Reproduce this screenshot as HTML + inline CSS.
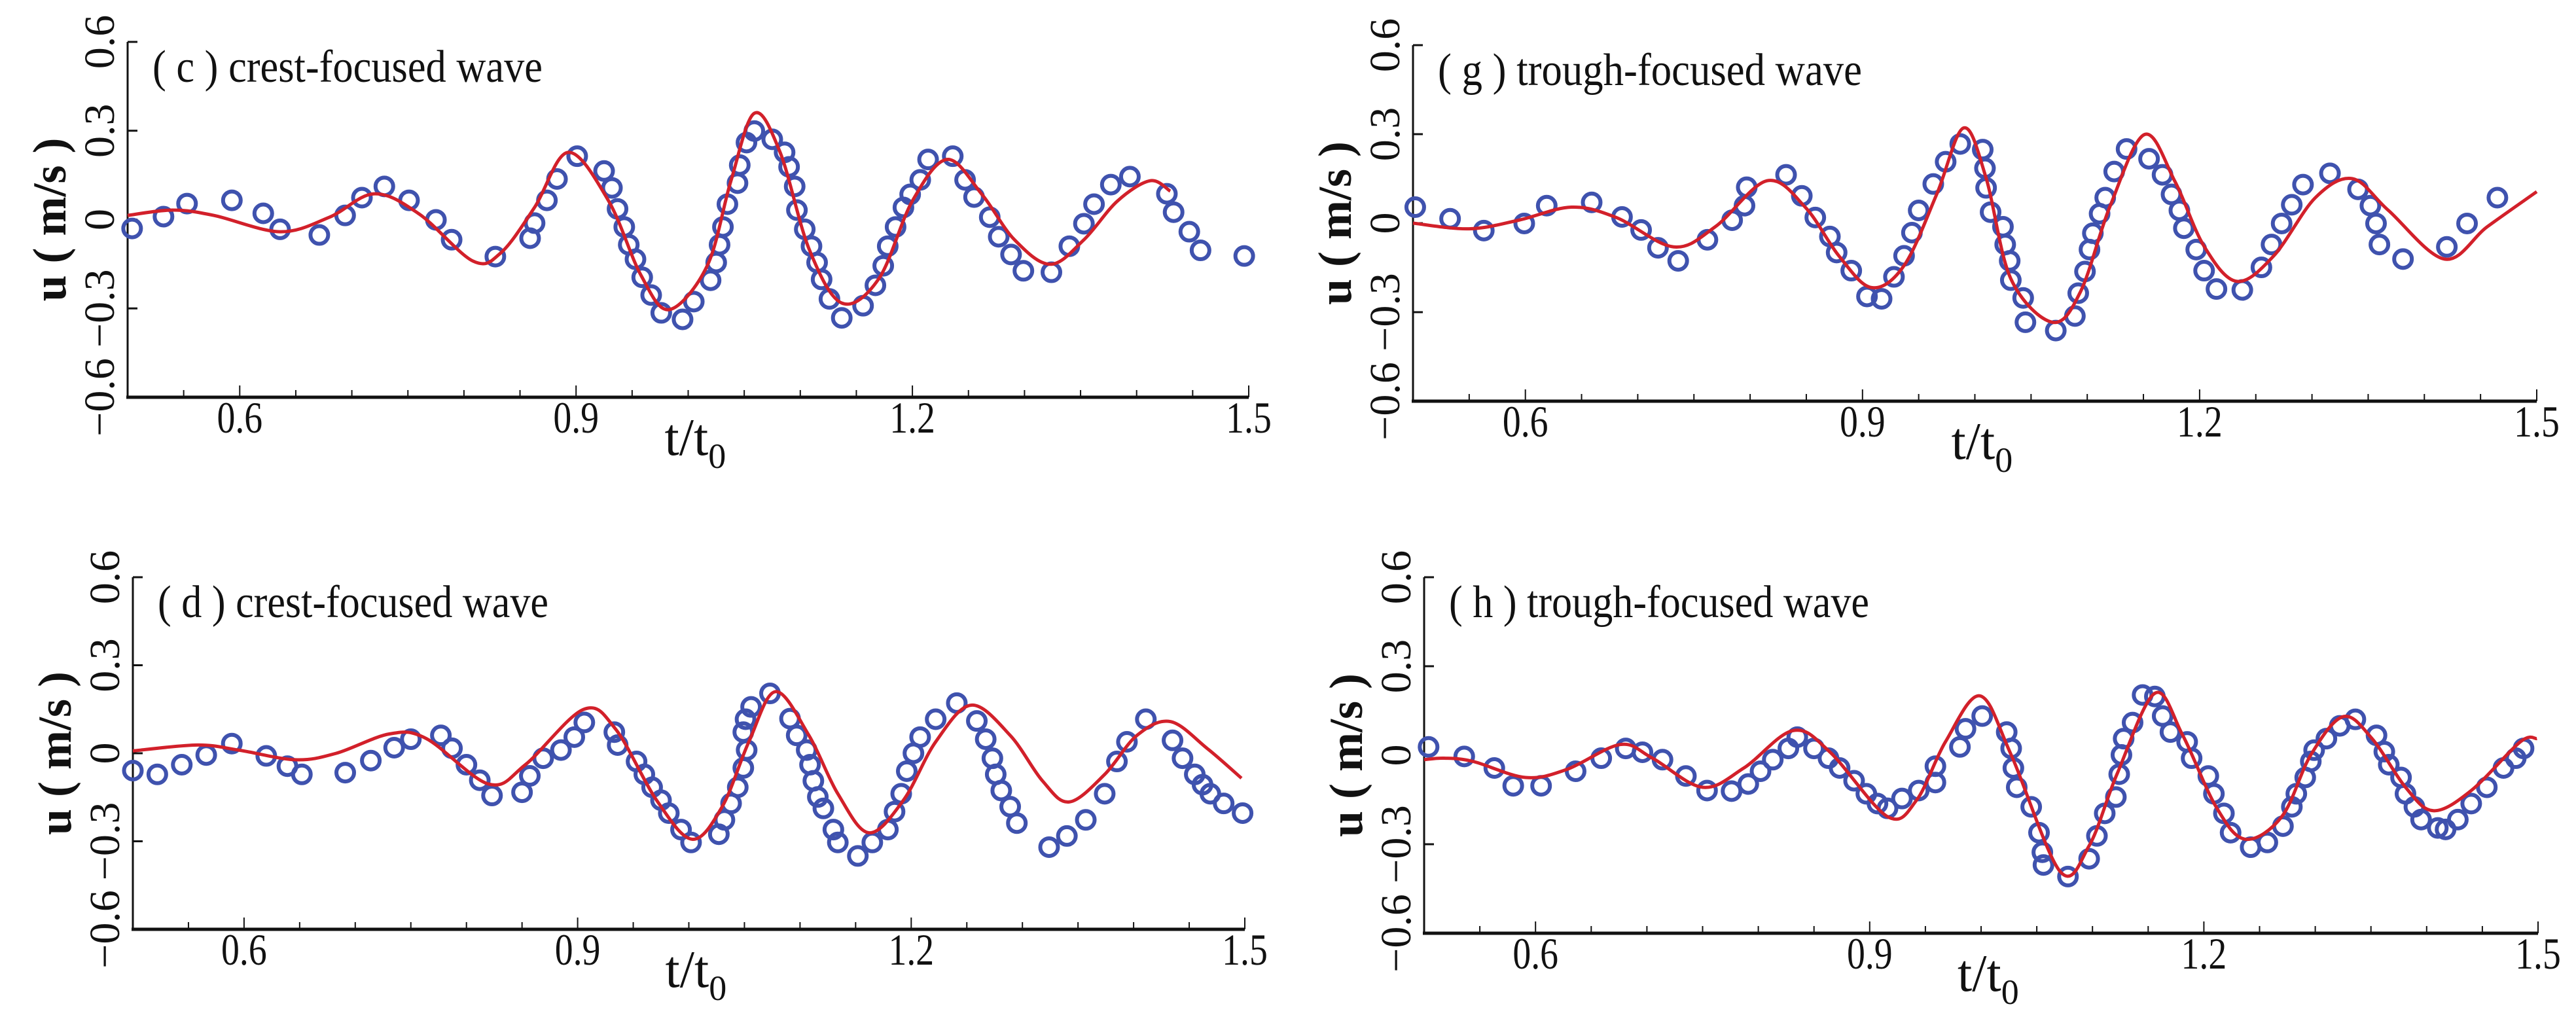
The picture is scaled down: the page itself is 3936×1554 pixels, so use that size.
<!DOCTYPE html>
<html><head><meta charset="utf-8"><style>
html,body{margin:0;padding:0;background:#fff}
svg{display:block}
text{font-family:"Liberation Serif",serif;fill:#111}
</style></head><body>
<svg id="fig" width="3936" height="1554" viewBox="0 0 3936 1554" xmlns="http://www.w3.org/2000/svg">
<rect width="3936" height="1554" fill="#fff"/>
</svg>
<script>
const xTicks=[0.6,0.9,1.2,1.5];
const xTickLabels=["0.6","0.9","1.2","1.5"];
const yTicks=[-0.6,-0.3,0,0.3,0.6];
const yTickLabels=["\u22120.6","\u22120.3","0","0.3","0.6"];

// panel c
const cLineT=[0.5,0.54,0.577,0.636,0.68,0.72,0.76,0.808,0.833,0.863,0.893,0.929,0.958,0.983,1.017,1.038,1.059,1.082,1.108,1.137,1.17,1.2,1.231,1.262,1.291,1.323,1.353,1.383,1.412,1.43];
const cLineU=[0.014,0.032,0.014,-0.041,0.008,0.087,0.019,-0.14,-0.112,0.041,0.227,0.063,-0.189,-0.304,-0.156,0.129,0.359,0.227,-0.101,-0.282,-0.2,0.063,0.203,0.085,-0.068,-0.151,-0.068,0.063,0.131,0.096];
const cExpT=[0.504,0.532,0.553,0.593,0.621,0.636,0.671,0.694,0.709,0.729,0.751,0.775,0.789,0.828,0.859,0.863,0.874,0.883,0.901,0.925,0.932,0.937,0.943,0.947,0.953,0.959,0.967,0.976,0.995,1.005,1.02,1.025,1.028,1.031,1.035,1.044,1.046,1.052,1.059,1.075,1.086,1.09,1.095,1.097,1.104,1.11,1.115,1.119,1.126,1.137,1.156,1.167,1.174,1.178,1.185,1.192,1.198,1.207,1.214,1.236,1.247,1.255,1.269,1.277,1.288,1.299,1.324,1.34,1.353,1.362,1.377,1.394,1.427,1.433,1.447,1.457,1.496];
const cExpU=[-0.03,0.01,0.054,0.065,0.021,-0.033,-0.052,0.014,0.074,0.112,0.065,-0.001,-0.068,-0.125,-0.063,-0.012,0.065,0.137,0.214,0.164,0.107,0.036,-0.025,-0.085,-0.134,-0.195,-0.255,-0.315,-0.337,-0.277,-0.205,-0.145,-0.085,-0.025,0.052,0.123,0.184,0.26,0.299,0.271,0.227,0.178,0.112,0.032,-0.033,-0.09,-0.145,-0.202,-0.268,-0.332,-0.291,-0.222,-0.156,-0.09,-0.025,0.041,0.085,0.134,0.203,0.214,0.134,0.076,0.008,-0.058,-0.118,-0.173,-0.178,-0.09,-0.014,0.052,0.118,0.145,0.087,0.025,-0.041,-0.104,-0.123];

// panel g
const gLineT=[0.5,0.55,0.594,0.641,0.681,0.732,0.769,0.815,0.849,0.879,0.908,0.937,0.966,0.99,1.01,1.032,1.069,1.094,1.12,1.151,1.178,1.204,1.233,1.266,1.303,1.336,1.368,1.418,1.456,1.5];
const gLineU=[0.0,-0.019,0.01,0.054,0.019,-0.08,-0.012,0.143,0.054,-0.11,-0.217,-0.143,0.097,0.321,0.152,-0.187,-0.334,-0.231,0.054,0.299,0.141,-0.078,-0.196,-0.11,0.086,0.15,0.043,-0.121,-0.012,0.106];
const gExpT=[0.502,0.533,0.563,0.599,0.619,0.659,0.686,0.703,0.718,0.736,0.762,0.784,0.795,0.797,0.832,0.846,0.858,0.871,0.877,0.89,0.904,0.917,0.928,0.937,0.944,0.95,0.963,0.974,0.987,1.007,1.009,1.01,1.014,1.025,1.027,1.031,1.032,1.043,1.045,1.072,1.089,1.092,1.098,1.102,1.105,1.111,1.116,1.124,1.135,1.155,1.167,1.175,1.182,1.186,1.197,1.204,1.215,1.238,1.255,1.264,1.273,1.282,1.292,1.316,1.341,1.352,1.357,1.36,1.381,1.42,1.438,1.465];
const gExpU=[0.054,0.015,-0.025,-0.001,0.059,0.07,0.021,-0.023,-0.083,-0.127,-0.056,0.01,0.059,0.121,0.163,0.092,0.019,-0.045,-0.099,-0.16,-0.247,-0.255,-0.181,-0.11,-0.032,0.043,0.132,0.207,0.267,0.248,0.185,0.119,0.037,-0.012,-0.072,-0.127,-0.192,-0.252,-0.334,-0.362,-0.313,-0.236,-0.163,-0.089,-0.034,0.032,0.086,0.174,0.25,0.217,0.163,0.097,0.043,-0.017,-0.089,-0.16,-0.222,-0.225,-0.149,-0.072,-0.001,0.062,0.13,0.168,0.114,0.059,-0.001,-0.072,-0.121,-0.08,-0.001,0.086];

// panel d
const dLineT=[0.5,0.558,0.595,0.646,0.683,0.731,0.764,0.82,0.853,0.905,0.934,0.971,1.003,1.03,1.054,1.078,1.108,1.134,1.162,1.193,1.222,1.254,1.289,1.318,1.342,1.374,1.403,1.433,1.466,1.497];
const dLineU=[0.008,0.028,0.011,-0.022,0.0,0.066,0.05,-0.105,-0.039,0.149,0.083,-0.16,-0.293,-0.182,0.039,0.21,0.061,-0.138,-0.271,-0.16,0.039,0.164,0.061,-0.094,-0.166,-0.072,0.061,0.108,0.017,-0.085];
const dExpT=[0.5,0.522,0.544,0.566,0.589,0.62,0.639,0.652,0.691,0.714,0.735,0.75,0.777,0.787,0.8,0.812,0.823,0.85,0.857,0.869,0.885,0.897,0.906,0.933,0.936,0.953,0.96,0.967,0.975,0.982,0.993,1.002,1.027,1.032,1.038,1.044,1.049,1.052,1.049,1.051,1.056,1.073,1.091,1.097,1.106,1.109,1.112,1.116,1.121,1.13,1.134,1.152,1.165,1.179,1.185,1.191,1.196,1.202,1.208,1.222,1.241,1.259,1.267,1.273,1.276,1.281,1.289,1.295,1.324,1.34,1.357,1.374,1.385,1.394,1.411,1.435,1.444,1.455,1.462,1.469,1.481,1.498];
const dExpU=[-0.059,-0.072,-0.039,-0.006,0.033,-0.009,-0.044,-0.072,-0.066,-0.025,0.019,0.048,0.061,0.017,-0.039,-0.092,-0.144,-0.133,-0.077,-0.017,0.011,0.055,0.105,0.072,0.028,-0.028,-0.072,-0.116,-0.16,-0.204,-0.26,-0.304,-0.276,-0.227,-0.171,-0.116,-0.05,0.011,0.072,0.116,0.158,0.204,0.118,0.061,0.011,-0.039,-0.094,-0.149,-0.188,-0.26,-0.304,-0.35,-0.304,-0.26,-0.199,-0.138,-0.061,0.0,0.055,0.116,0.171,0.11,0.048,-0.017,-0.072,-0.127,-0.182,-0.238,-0.32,-0.282,-0.227,-0.138,-0.028,0.039,0.116,0.044,-0.017,-0.072,-0.107,-0.138,-0.171,-0.204];

// panel h
const hLineT=[0.5,0.518,0.544,0.591,0.628,0.676,0.705,0.75,0.787,0.831,0.864,0.916,0.942,0.968,0.999,1.027,1.071,1.097,1.122,1.156,1.181,1.211,1.237,1.27,1.296,1.325,1.351,1.381,1.406,1.44,1.484,1.499];
const hLineU=[-0.015,-0.01,-0.021,-0.075,-0.048,0.036,-0.01,-0.108,-0.043,0.083,0.012,-0.207,-0.152,0.045,0.2,0.001,-0.392,-0.305,-0.064,0.209,0.067,-0.174,-0.283,-0.207,0.001,0.13,0.056,-0.108,-0.187,-0.119,0.045,0.056];
const hExpT=[0.504,0.536,0.563,0.58,0.605,0.636,0.659,0.681,0.696,0.714,0.735,0.754,0.776,0.791,0.802,0.813,0.827,0.835,0.85,0.863,0.873,0.886,0.897,0.907,0.916,0.929,0.944,0.959,0.959,0.981,0.986,1.001,1.023,1.027,1.029,1.032,1.045,1.052,1.055,1.056,1.078,1.097,1.104,1.111,1.121,1.124,1.126,1.128,1.136,1.145,1.156,1.163,1.17,1.185,1.189,1.204,1.209,1.218,1.224,1.242,1.257,1.271,1.279,1.283,1.291,1.296,1.299,1.31,1.322,1.336,1.355,1.362,1.366,1.377,1.381,1.389,1.395,1.41,1.417,1.428,1.44,1.454,1.469,1.48,1.487];
const hExpU=[0.028,-0.004,-0.043,-0.103,-0.103,-0.054,-0.01,0.023,0.01,-0.015,-0.07,-0.119,-0.121,-0.097,-0.054,-0.015,0.023,0.061,0.023,-0.01,-0.043,-0.086,-0.13,-0.163,-0.179,-0.146,-0.119,-0.092,-0.037,0.028,0.089,0.132,0.078,0.023,-0.043,-0.108,-0.174,-0.261,-0.327,-0.37,-0.409,-0.349,-0.272,-0.196,-0.141,-0.064,0.001,0.056,0.11,0.203,0.198,0.132,0.078,0.045,-0.01,-0.07,-0.13,-0.196,-0.261,-0.31,-0.294,-0.239,-0.174,-0.13,-0.075,-0.021,0.017,0.056,0.099,0.121,0.067,0.012,-0.032,-0.075,-0.13,-0.174,-0.217,-0.245,-0.25,-0.217,-0.163,-0.108,-0.043,-0.01,0.023];

const svg=document.getElementById('fig');
const NS='http://www.w3.org/2000/svg';
function mk(tag,attrs,parent){const e=document.createElementNS(NS,tag);for(const k in attrs)e.setAttribute(k,attrs[k]);(parent||svg).appendChild(e);return e;}

const panels=[
 {id:'c',L:195,R:1908,T:64,B:607,title:'( c ) crest-focused wave',tw:596,lt:cLineT,lu:cLineU,et:cExpT,eu:cExpU},
 {id:'g',L:2159,R:3876,T:69,B:613,title:'( g ) trough-focused wave',tw:648,lt:gLineT,lu:gLineU,et:gExpT,eu:gExpU},
 {id:'d',L:203,R:1902,T:882,B:1420,title:'( d ) crest-focused wave',tw:597,lt:dLineT,lu:dLineU,et:dExpT,eu:dExpU},
 {id:'h',L:2176,R:3878,T:882,B:1426,title:'( h ) trough-focused wave',tw:642,lt:hLineT,lu:hLineU,et:hExpT,eu:hExpU}
];

function smoothPath(pts){
  let d='M'+pts[0][0].toFixed(1)+','+pts[0][1].toFixed(1);
  for(let i=0;i<pts.length-1;i++){
    const p0=pts[i-1]||pts[i],p1=pts[i],p2=pts[i+1],p3=pts[i+2]||p2;
    const c1=[p1[0]+(p2[0]-p0[0])/6,p1[1]+(p2[1]-p0[1])/6];
    const c2=[p2[0]-(p3[0]-p1[0])/6,p2[1]-(p3[1]-p1[1])/6];
    d+=' C'+c1[0].toFixed(1)+','+c1[1].toFixed(1)+' '+c2[0].toFixed(1)+','+c2[1].toFixed(1)+' '+p2[0].toFixed(1)+','+p2[1].toFixed(1);
  }
  return d;
}

panels.forEach(p=>{
  const xs=t=>p.L+(t-0.5)/(1.0)*(p.R-p.L);
  const ys=u=>p.B-(u+0.6)/1.2*(p.B-p.T);
  const g=mk('g',{});
  
  

  const ya=mk('line',{x1:p.L,y1:p.T,x2:p.L,y2:p.B,stroke:'#111','stroke-width':3},g);
  
  
  const xa=mk('line',{x1:p.L-2,y1:p.B,x2:p.R,y2:p.B,stroke:'#111','stroke-width':5},g);
  
  

  for(let k=0;k<=20;k++){
    const t=0.5+k*0.05;
    const major=(k%6===2);
    const tk=mk('line',{x1:xs(t),y1:p.B,x2:xs(t),y2:p.B-(major?18:11),stroke:'#111','stroke-width':2},g);
    
    
  }
  xTicks.forEach((t,i)=>{
    const tx=mk('text',{x:xs(t),y:p.B+54,'text-anchor':'middle','font-size':68,transform:'translate('+xs(t)+',0) scale(0.82,1) translate('+(-xs(t))+',0)'},g);
    tx.textContent=xTickLabels[i];
    
    
  });
  yTicks.forEach((u,i)=>{
    const tk=mk('line',{x1:p.L,y1:ys(u),x2:p.L+15,y2:ys(u),stroke:'#111','stroke-width':3},g);
    
    
    const x0=p.L-21,y0=ys(u);
    const tx=mk('text',{x:0,y:0,'text-anchor':'middle','font-size':66,transform:'translate('+x0+','+y0+') rotate(-90)'},g);
    tx.textContent=yTickLabels[i];
    
    
  });

  const cx=(p.L+p.R)/2;
  const xt=mk('text',{x:cx-36,y:p.B+88,'font-size':80},g);
  xt.innerHTML='t/t<tspan font-size="54" dy="20">0</tspan>';
  
  
  const yt=mk('text',{x:0,y:0,'text-anchor':'middle','font-size':72,'font-weight':'bold',textLength:250,lengthAdjust:'spacing',transform:'translate('+(p.L-95)+','+((p.T+p.B)/2)+') rotate(-90)'},g);
  yt.textContent='u ( m/s )';
  
  

  const tt=mk('text',{x:p.L+38,y:p.T+61,'font-size':70,textLength:p.tw,lengthAdjust:'spacingAndGlyphs'},g);
  tt.textContent=p.title;
  
  

  p.et.forEach((t,i)=>{
    const c=mk('circle',{cx:xs(t),cy:ys(p.eu[i]),r:13.5,fill:'none',stroke:'#3f52ae','stroke-width':6},g);
    
    
  });
  const pts=p.lt.map((t,i)=>[xs(t),ys(p.lu[i])]);
  const ln=mk('path',{d:smoothPath(pts),fill:'none',stroke:'#d2202a','stroke-width':5,'stroke-linejoin':'round'},g);
  
  
});
</script>
</body></html>
